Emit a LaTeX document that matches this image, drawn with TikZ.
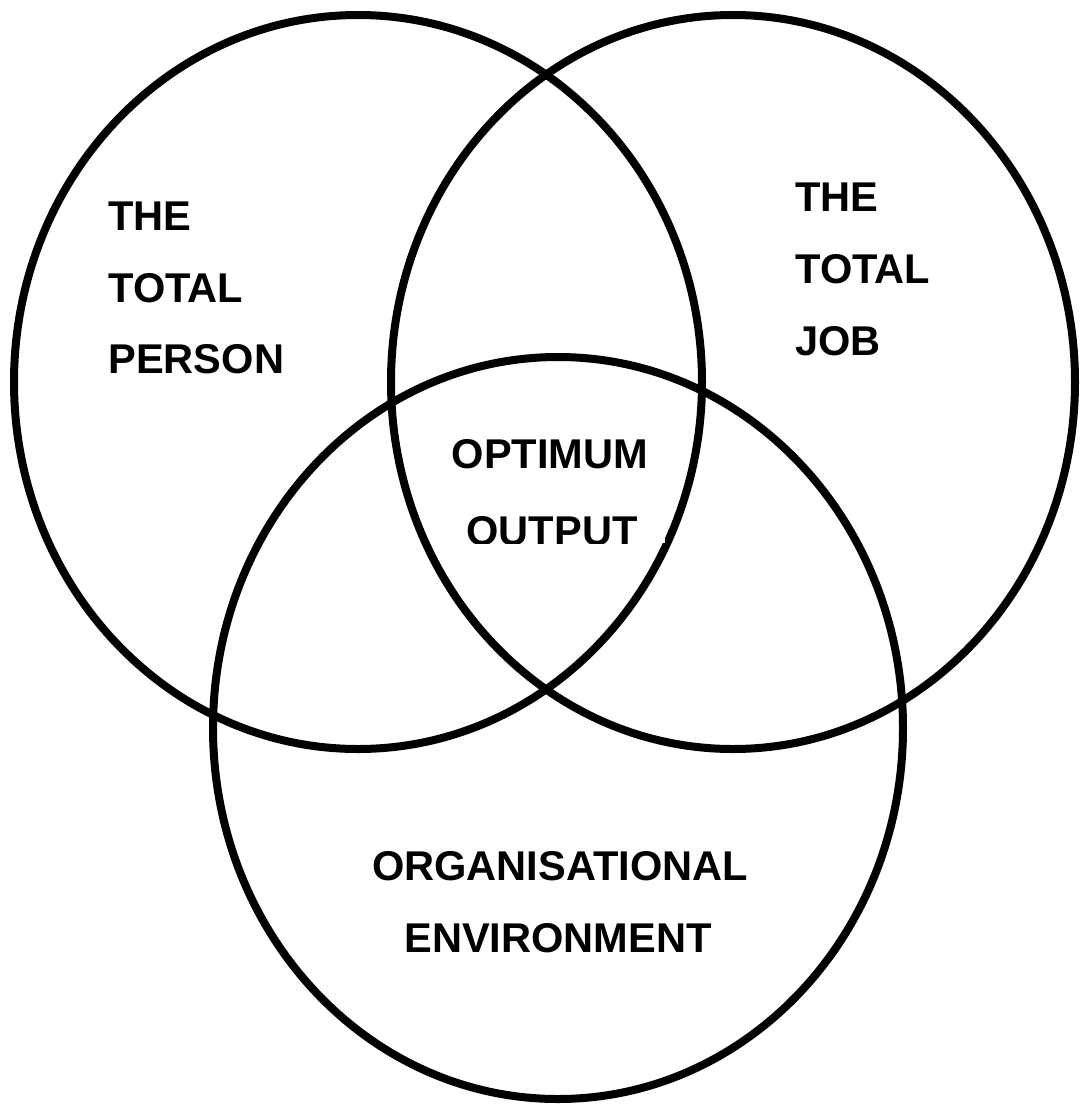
\documentclass[tikz,border=0pt]{standalone}
\usepackage{fontspec}
\setmainfont{Liberation Sans}
\begin{document}
\begin{tikzpicture}[x=0.5pt,y=-0.5pt,
  ring/.style={draw=black,line width=4pt},
  caption/.style={font=\bfseries\fontsize{20.8pt}{24pt}\selectfont,inner sep=0pt,anchor=base},
  leftcap/.style={caption,anchor=base west}]
\useasboundingbox (0,0) rectangle (1081,1104);

% the three overlapping circles
\draw[ring] (358,382) ellipse [x radius=344,y radius=367];
\draw[ring] (733,382) ellipse [x radius=342,y radius=367];
\draw[ring] (558,728) ellipse [x radius=345,y radius=371];

% left circle
\node[leftcap] (p1) at (108,230) {THE};
\node[leftcap] (p2) at (108,302) {TOTAL};
\node[leftcap] (p3) at (108,373) {PERSON};

% right circle
\node[leftcap] (j1) at (795,211) {THE};
\node[leftcap] (j2) at (795,283) {TOTAL};
\node[leftcap] (j3) at (795,355) {JOB};

% centre label on a white panel, cut off at its lower edge
\begin{scope}
  \clip (432,400) rectangle (665,543);
  \fill[white] (432,400) rectangle (665,543);
  \node[caption] (o1) at (550,468) {OPTIMUM};
  \node[caption] (o2) at (552,545) {OUTPUT};
\end{scope}

% lower circle
\node[caption] (e1) at (560,880) {ORGANISATIONAL};
\node[caption] (e2) at (558,952) {ENVIRONMENT};
\end{tikzpicture}
\end{document}
